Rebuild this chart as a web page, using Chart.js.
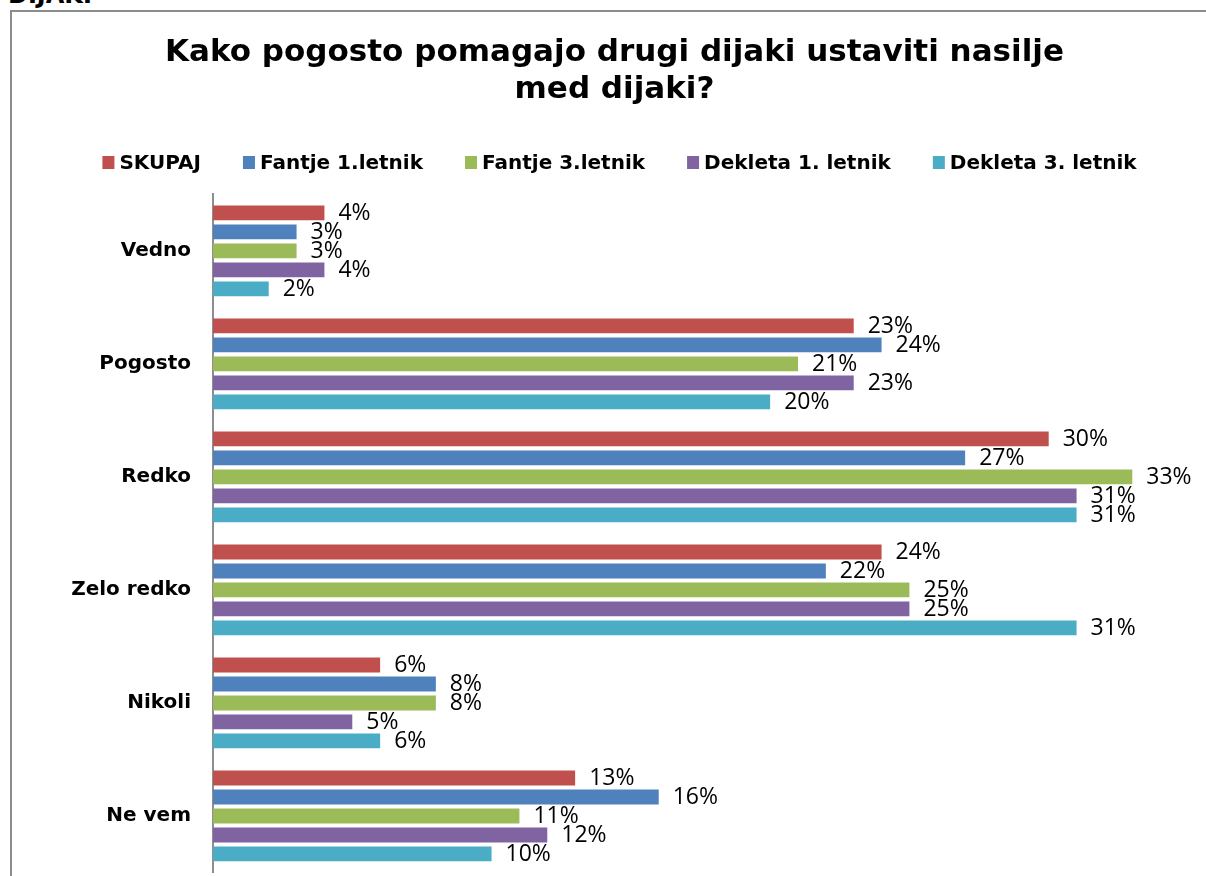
<!DOCTYPE html>
<html lang="sl">
<head>
    <meta charset="UTF-8">
    <script src="https://cdn.jsdelivr.net/npm/chart.js"></script>
    <title>Kako pogosto pomagajo drugi dijaki ustaviti nasilje med dijaki?</title>
    <style>
        body { margin: 0; background: #fff; overflow: hidden; }
        #frame {
            position: absolute; left: 10px; top: 10px; width: 1300px; height: 1000px;
            border-left: 2px solid #8c8c8c; border-top: 2px solid #8c8c8c;
        }
        #heading {
            position: absolute; left: 8px; top: -17px; margin: 0;
            font: bold 24px/24px "DejaVu Sans", sans-serif; color: #000;
        }
        #wrap { position: absolute; left: 0; top: 0; width: 1206px; height: 876px; }
    </style>
</head>
<body>
    <div id="heading">DIJAKI</div>
    <div id="frame"></div>
    <div id="wrap"><canvas id="chart"></canvas></div>

    <script>
        // odgovori in skupine
        const categories = ['Vedno', 'Pogosto', 'Redko', 'Zelo redko', 'Nikoli', 'Ne vem'];
        const seriesNames = ['SKUPAJ', 'Fantje 1.letnik', 'Fantje 3.letnik', 'Dekleta 1. letnik', 'Dekleta 3. letnik'];
        const colors = ['#C0504D', '#4F81BD', '#9BBB59', '#8064A2', '#4BACC6'];

        // deleži v %
        const skupaj = [4, 23, 30, 24, 6, 13];
        const fantje1 = [3, 24, 27, 22, 8, 16];
        const fantje3 = [3, 21, 33, 25, 8, 11];
        const dekleta1 = [4, 23, 31, 25, 5, 12];
        const dekleta3 = [2, 20, 31, 31, 6, 10];
        const seriesValues = [skupaj, fantje1, fantje3, dekleta1, dekleta3];

        const titleLines = ['Kako pogosto pomagajo drugi dijaki ustaviti nasilje', 'med dijaki?'];

        // oznake vrednosti desno od stolpcev
        const valueLabels = {
            id: 'valueLabels',
            afterDatasetsDraw(chart) {
                const ctx = chart.ctx;
                ctx.save();
                ctx.font = '23px "Open Sans", sans-serif';
                ctx.fillStyle = '#000';
                ctx.textAlign = 'left';
                ctx.textBaseline = 'middle';
                chart.data.datasets.forEach((ds, i) => {
                    chart.getDatasetMeta(i).data.forEach((bar, j) => {
                        ctx.fillText(ds.data[j] + '%', bar.x + 14, bar.y + 0.5);
                    });
                });
                ctx.restore();
            }
        };

        // legenda v eni vrstici pod naslovom
        const legendRow = {
            id: 'legendRow',
            afterDraw(chart) {
                const ctx = chart.ctx;
                ctx.save();
                ctx.font = 'bold 20px "DejaVu Sans", sans-serif';
                ctx.textBaseline = 'alphabetic';
                const box = 12, gap = 5, space = 42, baseline = 169, center = 619.5;
                const widths = seriesNames.map(n => ctx.measureText(n).width);
                const total = widths.reduce((s, w) => s + box + gap + w, 0) + space * (seriesNames.length - 1);
                let x = center - total / 2;
                seriesNames.forEach((name, i) => {
                    ctx.fillStyle = colors[i];
                    ctx.fillRect(x, baseline - 13, box, 13);
                    ctx.fillStyle = '#000';
                    ctx.fillText(name, x + box + gap, baseline);
                    x += box + gap + widths[i] + space;
                });
                ctx.restore();
            }
        };

        const ctx = document.getElementById('chart').getContext('2d');
        new Chart(ctx, {
            type: 'bar',
            data: {
                labels: categories,
                datasets: seriesNames.map((name, i) => ({
                    label: name,
                    data: seriesValues[i],
                    backgroundColor: colors[i],
                    borderWidth: 0,
                    barPercentage: 0.78,
                    categoryPercentage: 0.84
                }))
            },
            options: {
                indexAxis: 'y',
                responsive: true,
                maintainAspectRatio: false,
                animation: false,
                layout: { padding: { top: 0, left: 41, right: 18, bottom: 3.5 } },
                scales: {
                    x: { display: false, min: 0, max: 35 },
                    y: {
                        grid: { display: false, drawTicks: false },
                        border: { display: true, color: '#8e8e8e', width: 2 },
                        ticks: {
                            color: '#000',
                            padding: 22,
                            font: { family: 'DejaVu Sans', size: 20, weight: 'bold' }
                        },
                        afterFit(scale) {
                            scale.width = 213 - 41;
                            scale.paddingTop = 0;
                            scale.paddingBottom = 0;
                        }
                    }
                },
                plugins: {
                    legend: { display: false },
                    tooltip: { enabled: false },
                    title: {
                        display: true,
                        text: titleLines,
                        color: '#000',
                        font: { family: 'DejaVu Sans', size: 31, weight: 'bold', lineHeight: 1.2 },
                        padding: { top: 34, bottom: 86 }
                    }
                }
            },
            plugins: [valueLabels, legendRow]
        });
    </script>
</body>
</html>
